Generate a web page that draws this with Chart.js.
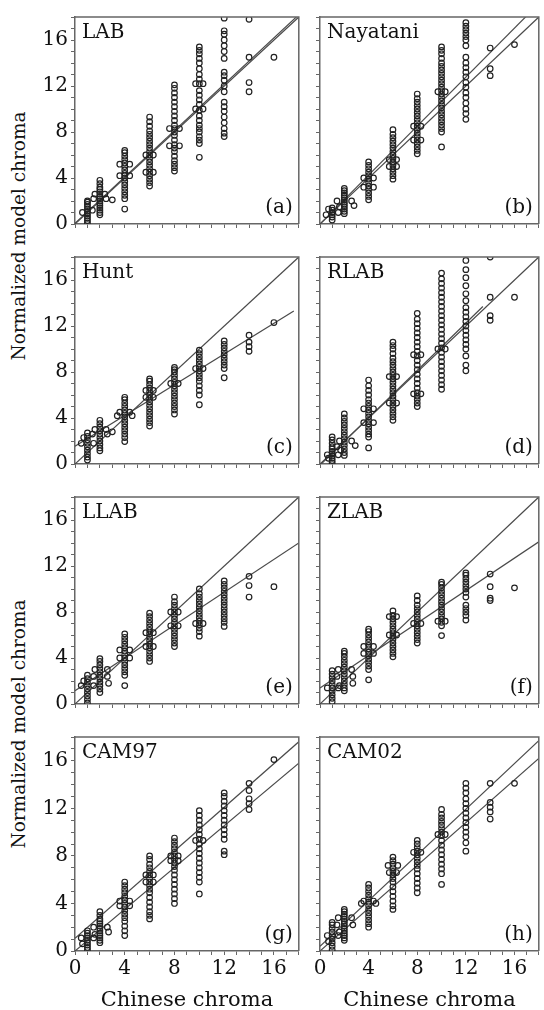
<!DOCTYPE html>
<html>
<head>
<meta charset="utf-8">
<script src="https://cdn.jsdelivr.net/npm/chart.js@4.4.0/dist/chart.umd.min.js"></script>
<style>
  body { margin: 0; background: #fff; width: 544px; height: 1010px; position: relative; overflow: hidden; font-family: 'DejaVu Serif', serif; }
  canvas { position: absolute; }
  .ytitle { position: absolute; width: 300px; height: 24px; line-height: 24px; text-align: center; font-size: 18.5px; color: #111; transform: rotate(-90deg); }
</style>
</head>
<body>
<div class="ytitle" style="left:-131px; top:224px;">Normalized model chroma</div>
<div class="ytitle" style="left:-131px; top:712px;">Normalized model chroma</div>

<script>
'use strict';

// Chinese chroma columns (x) shared by all panels
const chromaCols = [1, 2, 4, 6, 8, 10, 12, 14, 16];

// model chroma per column, one array per panel
const labCols = [
    [0.1, 0.3, 0.5, 0.7, 0.9, 1.1, 1.3, 1.5, 1.7, 1.9, 2.0],
    [0.8, 1.0, 1.2, 1.4, 1.6, 1.8, 2.0, 2.2, 2.4, 2.6, 2.8, 3.0, 3.2, 3.5, 3.8],
    [1.3, 2.2, 2.5, 2.8, 3.1, 3.4, 3.7, 4.0, 4.2, 4.4, 4.7, 5.0, 5.3, 5.6, 5.9, 6.2, 6.4],
    [3.3, 3.6, 3.9, 4.2, 4.5, 4.8, 5.1, 5.4, 5.7, 6.0, 6.3, 6.6, 6.9, 7.2, 7.5, 7.8, 8.1, 8.5, 8.9, 9.3],
    [4.6, 4.9, 5.2, 5.5, 5.9, 6.3, 6.6, 6.9, 7.3, 7.7, 8.0, 8.3, 8.6, 9.0, 9.4, 9.8, 10.2, 10.6, 11.0, 11.4, 11.8, 12.1],
    [5.8, 7.0, 7.3, 7.6, 8.0, 8.3, 8.6, 9.0, 9.4, 9.9, 10.4, 10.8, 11.2, 11.6, 12.2, 12.6, 13.0, 13.5, 14.0, 14.4, 14.8, 15.1, 15.4],
    [7.6, 7.9, 8.3, 8.8, 9.3, 9.8, 10.2, 10.6, 11.5, 12.0, 12.5, 12.9, 13.2, 14.4, 15.0, 15.5, 16.0, 16.5, 16.8, 17.9],
    [11.5, 12.3, 14.5, 17.8],
    [14.5]
];
const labSide = [[0.6, 1.0], [1.4, 1.2], [1.5, 2.2], [2.5, 2.2], [3.0, 2.1], [1.6, 2.6], [2.4, 2.6], [3.6, 4.2], [4.4, 4.2], [3.6, 5.2], [4.4, 5.2],
    [5.7, 6.0], [6.3, 6.0], [5.7, 4.5], [6.3, 4.5], [7.6, 8.3], [8.4, 8.3], [7.6, 6.8], [8.4, 6.8], [9.7, 10.0], [10.3, 10.0], [9.7, 12.2], [10.3, 12.2]];

const nayCols = [
    [0.35, 0.6, 0.8, 1.0, 1.2, 1.4],
    [0.9, 1.1, 1.3, 1.5, 1.7, 1.9, 2.1, 2.3, 2.5, 2.7, 2.9, 3.1],
    [2.1, 2.4, 2.7, 3.0, 3.3, 3.6, 3.9, 4.2, 4.5, 4.8, 5.1, 5.4],
    [3.9, 4.2, 4.5, 4.8, 5.1, 5.4, 5.7, 6.0, 6.3, 6.6, 6.9, 7.2, 7.5, 7.8, 8.2],
    [6.1, 6.4, 6.7, 7.0, 7.3, 7.6, 7.9, 8.2, 8.5, 8.8, 9.1, 9.4, 9.7, 10.0, 10.3, 10.6, 10.9, 11.3],
    [6.7, 8.0, 8.3, 8.6, 8.9, 9.2, 9.5, 9.8, 10.1, 10.4, 10.7, 11.0, 11.3, 11.6, 11.9, 12.2, 12.5, 12.8, 13.1, 13.4, 13.7, 14.0, 14.4, 14.8, 15.1, 15.4],
    [9.1, 9.6, 10.0, 10.5, 11.0, 11.4, 11.9, 12.3, 12.8, 13.2, 13.6, 14.0, 14.5, 15.5, 16.0, 16.3, 16.6, 16.9, 17.2, 17.5],
    [12.9, 13.5, 15.3],
    [15.6]
];
const naySide = [[0.5, 0.8], [1.5, 1.0], [0.7, 1.3], [1.4, 2.0], [2.6, 2.0], [1.6, 1.5], [2.8, 1.6], [3.6, 4.0], [4.4, 4.0], [3.6, 3.2], [4.4, 3.2],
    [5.7, 5.0], [6.3, 5.0], [5.7, 5.6], [6.3, 5.6], [7.7, 8.5], [8.3, 8.5], [7.7, 7.3], [8.3, 7.3], [9.7, 11.5], [10.3, 11.5]];

const huntCols = [
    [0.35, 0.6, 0.9, 1.2, 1.5, 1.8, 2.1, 2.4, 2.7],
    [1.15, 1.4, 1.7, 2.0, 2.3, 2.6, 2.9, 3.2, 3.5, 3.8],
    [1.95, 2.3, 2.6, 2.9, 3.2, 3.5, 3.8, 4.1, 4.4, 4.7, 5.0, 5.3, 5.6, 5.8],
    [3.3, 3.6, 3.9, 4.2, 4.5, 4.8, 5.1, 5.4, 5.7, 6.0, 6.3, 6.6, 6.9, 7.2, 7.4],
    [4.35, 4.7, 5.0, 5.3, 5.6, 5.9, 6.2, 6.5, 6.8, 7.1, 7.4, 7.7, 8.0, 8.2, 8.4],
    [5.15, 6.0, 6.4, 6.8, 7.2, 7.5, 7.8, 8.1, 8.4, 8.7, 9.0, 9.3, 9.6, 9.9],
    [7.5, 8.3, 8.6, 8.9, 9.2, 9.5, 9.8, 10.1, 10.4, 10.7],
    [9.8, 10.2, 10.6, 11.2],
    [12.3]
];
const huntSide = [[0.5, 1.8], [1.5, 1.8], [0.7, 2.3], [1.4, 2.6], [2.6, 2.6], [1.6, 3.0], [2.5, 3.0], [3.0, 2.8], [3.6, 4.5], [4.4, 4.5], [3.4, 4.2], [4.6, 4.2],
    [5.7, 5.8], [6.3, 5.8], [5.7, 6.4], [6.3, 6.4], [7.7, 7.0], [8.3, 7.0], [9.7, 8.3], [10.3, 8.3]];

const rlabCols = [
    [0.1, 0.3, 0.5, 0.7, 0.9, 1.1, 1.3, 1.5, 1.8, 2.1, 2.35],
    [0.75, 1.0, 1.3, 1.6, 1.9, 2.2, 2.5, 2.8, 3.1, 3.4, 3.7, 4.0, 4.35],
    [1.4, 2.35, 2.6, 2.9, 3.2, 3.5, 3.8, 4.1, 4.4, 4.7, 5.0, 5.3, 5.6, 6.0, 6.4, 6.8, 7.3],
    [3.8, 4.1, 4.4, 4.7, 5.0, 5.3, 5.6, 5.9, 6.2, 6.5, 6.8, 7.1, 7.4, 7.7, 8.0, 8.3, 8.6, 8.9, 9.2, 9.6, 10.0, 10.3, 10.6],
    [5.0, 5.3, 5.6, 5.9, 6.2, 6.6, 7.0, 7.4, 7.8, 8.2, 8.6, 9.0, 9.4, 9.8, 10.2, 10.6, 11.0, 11.4, 11.8, 12.2, 12.6, 13.1],
    [6.5, 6.9, 7.3, 7.7, 8.1, 8.5, 8.9, 9.3, 9.7, 10.1, 10.5, 10.9, 11.3, 11.7, 12.1, 12.5, 12.9, 13.3, 13.7, 14.1, 14.5, 14.9, 15.3, 15.7, 16.1, 16.6],
    [8.1, 8.6, 9.4, 10.0, 10.4, 10.8, 11.2, 11.6, 12.0, 12.4, 12.8, 13.2, 13.6, 14.2, 14.8, 15.5, 16.2, 16.9, 17.7],
    [12.5, 12.9, 14.5, 18.0],
    [14.5]
];
const rlabSide = [[0.6, 0.8], [1.5, 0.8], [0.7, 0.5], [1.4, 1.5], [1.6, 2.0], [2.6, 2.0], [2.9, 1.6], [1.7, 1.2], [3.6, 4.8], [4.4, 4.8], [3.6, 3.6], [4.4, 3.6],
    [5.7, 5.3], [6.3, 5.3], [5.7, 7.6], [6.3, 7.6], [7.7, 6.1], [8.3, 6.1], [7.7, 9.5], [8.3, 9.5], [9.7, 10.0], [10.3, 10.0]];

const llabCols = [
    [0.1, 0.4, 0.7, 1.0, 1.3, 1.6, 1.9, 2.2, 2.5],
    [1.0, 1.3, 1.6, 1.9, 2.2, 2.5, 2.8, 3.1, 3.4, 3.7, 3.95],
    [1.6, 2.5, 2.8, 3.1, 3.4, 3.7, 4.0, 4.3, 4.6, 4.9, 5.2, 5.5, 5.8, 6.1],
    [3.7, 4.0, 4.3, 4.6, 4.9, 5.2, 5.5, 5.8, 6.1, 6.4, 6.7, 7.0, 7.3, 7.6, 7.9],
    [5.0, 5.3, 5.6, 5.9, 6.2, 6.5, 6.8, 7.1, 7.4, 7.7, 8.0, 8.3, 8.6, 8.9, 9.3],
    [5.9, 6.3, 6.6, 6.9, 7.2, 7.5, 7.8, 8.1, 8.4, 8.7, 9.0, 9.3, 9.6, 10.0],
    [6.75, 7.1, 7.4, 7.7, 8.0, 8.3, 8.6, 8.9, 9.2, 9.5, 9.8, 10.1, 10.4, 10.7],
    [9.3, 10.3, 11.1],
    [10.2]
];
const llabSide = [[0.5, 1.6], [1.5, 1.6], [0.7, 2.0], [1.5, 2.4], [2.6, 2.4], [1.6, 3.0], [2.6, 3.0], [2.7, 1.8], [3.6, 4.7], [4.4, 4.7], [3.6, 4.0], [4.4, 4.0],
    [5.7, 6.2], [6.3, 6.2], [5.7, 5.0], [6.3, 5.0], [7.7, 8.0], [8.3, 8.0], [7.7, 6.8], [8.3, 6.8], [9.7, 7.0], [10.3, 7.0]];

const zlabCols = [
    [0.2, 0.5, 0.8, 1.1, 1.4, 1.7, 2.0, 2.3, 2.6, 2.9],
    [1.15, 1.4, 1.7, 2.0, 2.3, 2.6, 2.9, 3.2, 3.5, 3.8, 4.1, 4.4, 4.6],
    [2.1, 3.0, 3.3, 3.6, 3.9, 4.2, 4.5, 4.8, 5.1, 5.4, 5.7, 6.0, 6.3, 6.5],
    [4.1, 4.4, 4.7, 5.0, 5.3, 5.6, 5.9, 6.2, 6.5, 6.8, 7.1, 7.4, 7.7, 8.1],
    [5.3, 5.6, 5.9, 6.2, 6.5, 6.8, 7.1, 7.4, 7.7, 8.0, 8.3, 8.6, 9.0, 9.4],
    [5.95, 6.8, 7.1, 7.4, 7.7, 8.0, 8.3, 8.6, 8.9, 9.2, 9.5, 9.8, 10.1, 10.4, 10.6],
    [7.3, 7.7, 8.0, 8.3, 8.6, 9.3, 9.7, 10.0, 10.3, 10.6, 10.9, 11.2, 11.4],
    [9.0, 9.2, 10.2, 11.3],
    [10.1]
];
const zlabSide = [[0.6, 1.4], [1.5, 1.4], [1.4, 2.4], [2.7, 2.4], [1.5, 3.0], [2.6, 3.0], [1.6, 1.6], [2.7, 1.8], [3.6, 5.0], [4.4, 5.0], [3.6, 4.4], [4.4, 4.4],
    [5.7, 7.6], [6.3, 7.6], [5.7, 6.0], [6.3, 6.0], [7.7, 7.0], [8.3, 7.0], [9.7, 7.2], [10.3, 7.2]];

const cam97Cols = [
    [0.1, 0.3, 0.5, 0.7, 0.9, 1.1, 1.3, 1.5, 1.7],
    [0.7, 0.9, 1.1, 1.3, 1.5, 1.7, 1.9, 2.1, 2.3, 2.5, 2.7, 3.0, 3.3],
    [1.3, 1.7, 2.1, 2.5, 2.8, 3.1, 3.4, 3.7, 4.0, 4.3, 4.6, 4.9, 5.2, 5.5, 5.8],
    [2.7, 3.0, 3.3, 3.7, 4.1, 4.5, 4.9, 5.2, 5.5, 5.8, 6.1, 6.4, 6.7, 7.0, 7.3, 7.7, 8.0],
    [4.0, 4.4, 4.8, 5.2, 5.6, 6.0, 6.4, 6.8, 7.1, 7.4, 7.7, 8.0, 8.3, 8.6, 8.9, 9.2, 9.5],
    [4.8, 5.8, 6.2, 6.6, 7.0, 7.4, 7.8, 8.2, 8.6, 9.0, 9.4, 9.8, 10.2, 10.6, 11.0, 11.4, 11.8],
    [8.1, 8.4, 9.4, 9.8, 10.2, 10.6, 11.0, 11.4, 11.8, 12.2, 12.6, 13.0, 13.3],
    [11.9, 12.4, 12.8, 13.5, 14.1],
    [16.1]
];
const cam97Side = [[0.5, 1.1], [1.5, 1.1], [0.6, 0.6], [1.5, 2.0], [2.6, 2.0], [1.6, 1.4], [2.7, 1.6], [3.6, 4.2], [4.4, 4.2], [3.6, 3.8], [4.4, 3.8],
    [5.7, 5.8], [6.3, 5.8], [5.7, 6.4], [6.3, 6.4], [7.7, 7.6], [8.3, 7.6], [7.7, 8.0], [8.3, 8.0], [9.7, 9.3], [10.3, 9.3]];

const cam02Cols = [
    [0.1, 0.4, 0.7, 1.0, 1.3, 1.6, 1.9, 2.2, 2.4],
    [0.9, 1.1, 1.3, 1.5, 1.7, 1.9, 2.1, 2.3, 2.5, 2.7, 2.9, 3.1, 3.3, 3.5],
    [2.0, 2.3, 2.6, 2.9, 3.2, 3.5, 3.8, 4.1, 4.4, 4.7, 5.0, 5.3, 5.6],
    [3.5, 3.8, 4.2, 4.6, 5.0, 5.4, 5.8, 6.1, 6.4, 6.7, 7.0, 7.3, 7.6, 7.9],
    [4.9, 5.3, 5.7, 6.1, 6.5, 6.9, 7.2, 7.5, 7.8, 8.1, 8.4, 8.7, 9.0, 9.3],
    [5.6, 6.5, 6.9, 7.3, 7.7, 8.1, 8.5, 8.9, 9.3, 9.7, 10.0, 10.3, 10.6, 10.9, 11.2, 11.5, 11.9],
    [8.4, 9.1, 9.6, 10.0, 10.4, 10.8, 11.2, 11.6, 12.0, 12.4, 12.8, 13.3, 13.7, 14.1],
    [11.1, 11.7, 12.1, 12.5, 14.1],
    [14.1]
];
const cam02Side = [[0.6, 1.3], [1.5, 1.3], [0.7, 0.8], [1.4, 2.2], [2.7, 2.2], [1.5, 2.8], [2.6, 2.8], [1.6, 1.6], [3.6, 4.2], [4.4, 4.2], [3.4, 4.0], [4.6, 4.0],
    [5.6, 7.2], [6.4, 7.2], [5.7, 6.6], [6.3, 6.6], [7.7, 8.3], [8.3, 8.3], [9.7, 9.8], [10.3, 9.8]];

// straight lines, as [x0, y0, x1, y1] in data units
const diagLine = [0, 0, 18, 18];
const labFit = [0, 0.05, 18, 18.2];
const nayFit = [0, 0, 17, 18.1];
const huntFit = [0, 1.55, 17.6, 13.3];
const rlabFit = [0, -0.1, 13.4, 13.7];
const llabFit = [0, 1.15, 18, 14.0];
const zlabFit = [0, 1.4, 18, 14.1];
const cam97Upper = [0, 1.07, 18, 17.6];
const cam97Lower = [0, 0, 18, 15.8];
const cam02Upper = [0, 0.4, 18, 17.7];
const cam02Lower = [0, 0, 18, 16.2];

const axisTicks = [0, 4, 8, 12, 16];

/******************** */
// layout

const colLeft = [25, 308];
const colYWidth = [50, 12];
const colPadRight = [4, 0];
const plotW = [225, 224];
const rowTop = [6, 246, 486, 726];
const plotH = 225;

const panels = [
    { name: 'LAB', tag: '(a)', cols: labCols, side: labSide, lines: [diagLine, labFit], c: 0, r: 0 },
    { name: 'Nayatani', tag: '(b)', cols: nayCols, side: naySide, lines: [diagLine, nayFit], c: 1, r: 0 },
    { name: 'Hunt', tag: '(c)', cols: huntCols, side: huntSide, lines: [diagLine, huntFit], c: 0, r: 1 },
    { name: 'RLAB', tag: '(d)', cols: rlabCols, side: rlabSide, lines: [diagLine, rlabFit], c: 1, r: 1 },
    { name: 'LLAB', tag: '(e)', cols: llabCols, side: llabSide, lines: [diagLine, llabFit], c: 0, r: 2 },
    { name: 'ZLAB', tag: '(f)', cols: zlabCols, side: zlabSide, lines: [diagLine, zlabFit], c: 1, r: 2 },
    { name: 'CAM97', tag: '(g)', cols: cam97Cols, side: cam97Side, lines: [cam97Upper, cam97Lower], c: 0, r: 3 },
    { name: 'CAM02', tag: '(h)', cols: cam02Cols, side: cam02Side, lines: [cam02Upper, cam02Lower], c: 1, r: 3 },
];

const serif = "'DejaVu Serif', serif";
const ink = '#111';
const frameColor = '#666';

// frame on top/right plus the panel names
const framePlugin = {
    id: 'frame',
    afterDraw(chart, args, opts) {
        const { ctx, chartArea: a } = chart;
        ctx.save();
        ctx.strokeStyle = frameColor;
        ctx.lineWidth = 1.5;
        ctx.beginPath();
        ctx.moveTo(a.left, a.top);
        ctx.lineTo(a.right, a.top);
        ctx.lineTo(a.right, a.bottom);
        ctx.stroke();
        ctx.fillStyle = ink;
        ctx.font = '20px ' + serif;
        ctx.textAlign = 'left';
        ctx.textBaseline = 'top';
        ctx.fillText(opts.name, a.left + 7, a.top + 6);
        ctx.textAlign = 'right';
        ctx.textBaseline = 'bottom';
        ctx.fillText(opts.tag, a.right - 6, a.bottom - 6);
        ctx.restore();
    }
};

const makePanel = function (p) {
    const bottomRow = p.r === 3;
    const leftCol = p.c === 0;
    const xH = bottomRow ? 62 : 8;
    const canvas = document.createElement('canvas');
    const w = colYWidth[p.c] + plotW[p.c] + colPadRight[p.c];
    const h = 4 + plotH + xH;
    canvas.width = w;
    canvas.height = h;
    canvas.style.left = colLeft[p.c] + 'px';
    canvas.style.top = (rowTop[p.r] - 4) + 'px';
    document.body.appendChild(canvas);

    const pts = [];
    p.cols.forEach((ys, i) => ys.forEach(y => pts.push({ x: chromaCols[i], y: y })));
    p.side.forEach(s => pts.push({ x: s[0], y: s[1] }));

    const lineSets = p.lines.map(l => ({
        type: 'line',
        data: [{ x: l[0], y: l[1] }, { x: l[2], y: l[3] }],
        borderColor: '#4a4a4a',
        borderWidth: 1.2,
        pointRadius: 0,
        showLine: true,
        fill: false,
    }));

    const gridOpts = { drawOnChartArea: false, drawTicks: true, tickLength: 4, color: frameColor, lineWidth: 1 };

    new Chart(canvas, {
        type: 'scatter',
        data: {
            datasets: [
                {
                    data: pts,
                    pointStyle: 'circle',
                    pointRadius: 2.8,
                    borderWidth: 1.2,
                    borderColor: '#222',
                    backgroundColor: 'rgba(255,255,255,0)',
                },
                ...lineSets,
            ],
        },
        options: {
            responsive: false,
            animation: false,
            events: [],
            layout: { padding: { top: 4, right: colPadRight[p.c], left: 0, bottom: 0 } },
            plugins: {
                legend: { display: false },
                tooltip: { enabled: false },
                frame: { name: p.name, tag: p.tag },
            },
            scales: {
                x: {
                    type: 'linear',
                    min: 0,
                    max: 18,
                    grid: gridOpts,
                    border: { color: frameColor, width: 1.5 },
                    ticks: {
                        stepSize: 1,
                        autoSkip: false,
                        maxRotation: 0,
                        padding: 2,
                        color: ink,
                        font: { family: serif, size: 20 },
                        callback: v => (bottomRow && axisTicks.includes(v) ? v : ''),
                    },
                    title: {
                        display: bottomRow,
                        text: 'Chinese chroma',
                        color: ink,
                        font: { family: serif, size: 21 },
                        padding: { top: 3, bottom: 0 },
                    },
                    afterFit: scale => { scale.height = xH; },
                },
                y: {
                    type: 'linear',
                    min: 0,
                    max: 18,
                    grid: gridOpts,
                    border: { color: frameColor, width: 1.5 },
                    ticks: {
                        stepSize: 1,
                        autoSkip: false,
                        padding: 3,
                        color: ink,
                        font: { family: serif, size: 20 },
                        callback: v => (leftCol && axisTicks.includes(v) ? v : ''),
                    },
                    afterFit: scale => { scale.width = colYWidth[p.c]; },
                },
            },
        },
        plugins: [framePlugin],
    });
};

panels.forEach(makePanel);
</script>
</body>
</html>
